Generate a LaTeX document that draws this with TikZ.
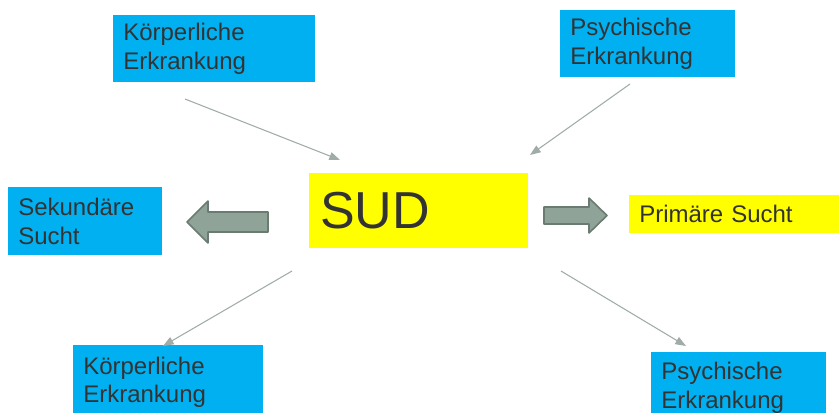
\documentclass[tikz,border=0pt]{standalone}
\usepackage{fontspec}
\setmainfont{Liberation Sans}
\usetikzlibrary{arrows.meta}
\definecolor{boxblue}{RGB}{0,176,240}
\definecolor{boxyellow}{RGB}{255,255,0}
\definecolor{linegray}{RGB}{160,172,166}
\definecolor{blockfill}{RGB}{143,163,152}
\definecolor{blockedge}{RGB}{106,124,114}
\definecolor{txtgray}{RGB}{51,51,51}

\begin{document}
\begin{tikzpicture}[x=0.75pt,y=-0.75pt,
  box/.style={anchor=north west, inner xsep=7.5pt, inner ysep=0pt, align=left,
    text=txtgray, font=\fontsize{18}{21.5}\selectfont},
  bluebox/.style={box, fill=boxblue},
  yellowbox/.style={box, fill=boxyellow},
  thinarrow/.style={linegray, line width=0.8pt, -{Triangle[length=8pt,width=6pt]}},
  blockarrow/.style={fill=blockfill, draw=blockedge, line width=1.2pt, line join=round}]
\clip (0,0) rectangle (839,412);
% boxes
\node[bluebox, minimum width=151.5pt, minimum height=50.25pt, text width=136.5pt] (koerperOben) at (113,15) {Körperliche\\Erkrankung};
\node[bluebox, minimum width=131.25pt, minimum height=50.25pt, text width=116.25pt] (psychOben) at (560,10) {Psychische\\Erkrankung};
\node[bluebox, minimum width=115.5pt, minimum height=51pt, text width=100.5pt] (sekundaer) at (8,187) {Sekundäre\\Sucht};
\node[yellowbox, minimum width=164.25pt, minimum height=56.25pt, text width=147.75pt, inner xsep=8.25pt,
  font=\fontsize{39}{44}\selectfont] (sud) at (309,173) {SUD};
\node[yellowbox, minimum width=165pt, minimum height=28.5pt, text width=150pt] (primaer) at (629,195) {Primäre Sucht};
\node[bluebox, minimum width=142.5pt, minimum height=55.5pt, text width=127.5pt] (koerperUnten) at (73,345) {Körperliche\\Erkrankung};
\node[bluebox, minimum width=131.25pt, minimum height=53.25pt, text width=116.25pt] (psychUnten) at (651,352) {Psychische\\Erkrankung};
% thin arrows
\coordinate (kO) at (185,99);   \coordinate (kOend) at (340,160);
\coordinate (pO) at (630,84);   \coordinate (pOend) at (530,155);
\coordinate (kU) at (292,271);  \coordinate (kUend) at (163,346);
\coordinate (pU) at (561,271);  \coordinate (pUend) at (686,346);
\draw[thinarrow] (kO) -- (kOend);
\draw[thinarrow] (pO) -- (pOend);
\draw[thinarrow] (kU) -- (kUend);
\draw[thinarrow] (pU) -- (pUend);
% block arrows
\draw[blockarrow] (268,212) -- (208,212) -- (208,201) -- (187,222) -- (208,243) -- (208,232) -- (268,232) -- cycle;
\draw[blockarrow] (544,207) -- (589,207) -- (589,198) -- (607,215.5) -- (589,233) -- (589,224) -- (544,224) -- cycle;
\end{tikzpicture}
\end{document}
